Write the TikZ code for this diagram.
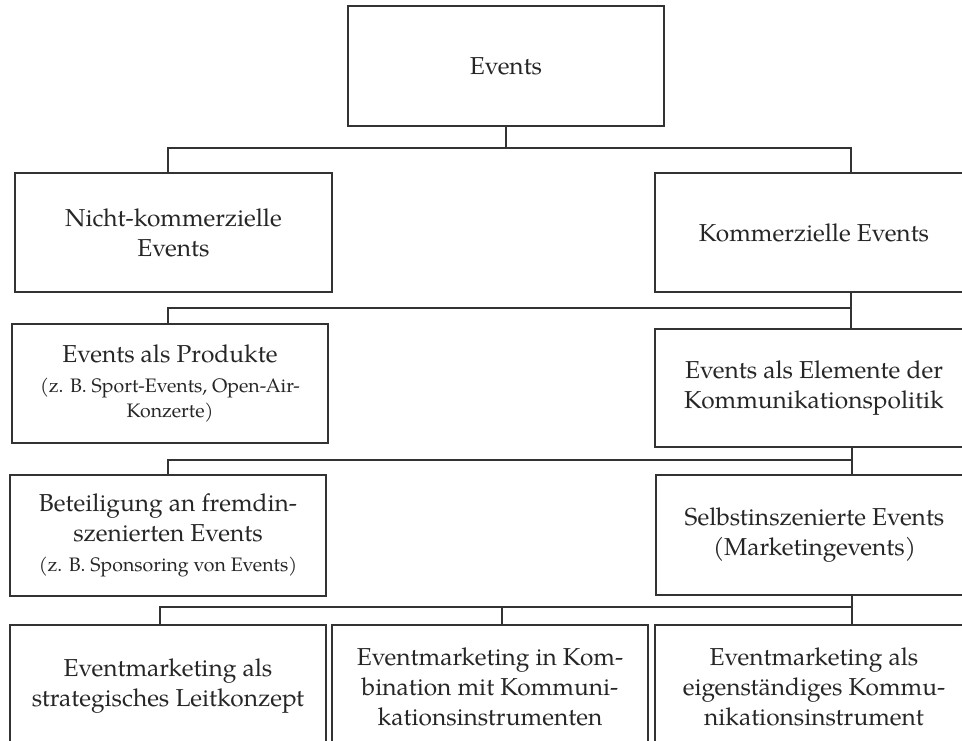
\documentclass[tikz,border=0pt]{standalone}
\usepackage{fontspec}
\setmainfont{TeX Gyre Pagella}
\newcommand{\smtxt}{\fontsize{19.5}{24}\selectfont}
\begin{document}
\begin{tikzpicture}[x=1pt,y=-1pt,
  box/.style={draw=black!80, line width=1.3pt, inner sep=0pt, align=center,
    text=black!85, font=\fontsize{24.5}{30}\selectfont},
  conn/.style={draw=black!80, line width=1.3pt}]
\useasboundingbox (0,0) rectangle (962,740);
\clip (0,0) rectangle (962,740);
\fill[white] (0,0) rectangle (962,740);
% boxes
\node[box, minimum width=316pt, minimum height=120pt] (ev) at (506,66) {Events};
\node[box, minimum width=317pt, minimum height=119pt] (nk) at (173.5,232.5) {Nicht-kommerzielle\\Events};
\node[box, minimum width=318pt, minimum height=119pt] (ko) at (814,232.5) {Kommerzielle Events};
\node[box, minimum width=316pt, minimum height=119pt] (prod) at (170,383.5) {Events als Produkte\\{\smtxt (z. B. Sport-Events, Open-Air-}\\[-5pt]{\smtxt Konzerte)}};
\node[box, minimum width=318pt, minimum height=118pt] (elem) at (814,388) {Events als Elemente der\\Kommunikationspolitik};
\node[box, minimum width=316pt, minimum height=121pt] (bet) at (168,535.5) {Beteiligung an fremdin-\\szenierten Events\\{\smtxt (z. B. Sponsoring von Events)}};
\node[box, minimum width=317pt, minimum height=120pt] (selb) at (814.5,535) {Selbstinszenierte Events\\(Marketingevents)};
\node[box, minimum width=316pt, minimum height=123pt] (b1) at (168,686.5) {Eventmarketing als\\strategisches Leitkonzept};
\node[box, minimum width=316pt, minimum height=123pt] (b2) at (490,686.5) {Eventmarketing in Kom-\\bination mit Kommuni-\\kationsinstrumenten};
\node[box, minimum width=318pt, minimum height=123pt] (b3) at (814,686.5) {Eventmarketing als\\eigenständiges Kommu-\\nikationsinstrument};
% junction coordinates
\coordinate (j1) at (506,148);
\coordinate (j1l) at (168,148);
\coordinate (j1r) at (851,148);
\coordinate (j2r) at (851,308);
\coordinate (j2l) at (168,308);
\coordinate (j3r) at (852,460);
\coordinate (j3l) at (168,460);
\coordinate (j4r) at (852,607);
\coordinate (j4l) at (160,607);
\coordinate (j4m) at (502,607);
% connectors
\draw[conn] (ev.south) -- (j1);
\draw[conn] (j1l |- nk.north) -- (j1l) -- (j1r) -- (j1r |- ko.north);
\draw[conn] (j2r |- ko.south) -- (j2r |- elem.north);
\draw[conn] (j2r) -- (j2l) -- (j2l |- prod.north);
\draw[conn] (j3r |- elem.south) -- (j3r |- selb.north);
\draw[conn] (j3r) -- (j3l) -- (j3l |- bet.north);
\draw[conn] (j4r |- selb.south) -- (j4r |- b3.north);
\draw[conn] (j4r) -- (j4l) -- (j4l |- b1.north);
\draw[conn] (j4m) -- (j4m |- b2.north);
\end{tikzpicture}
\end{document}
